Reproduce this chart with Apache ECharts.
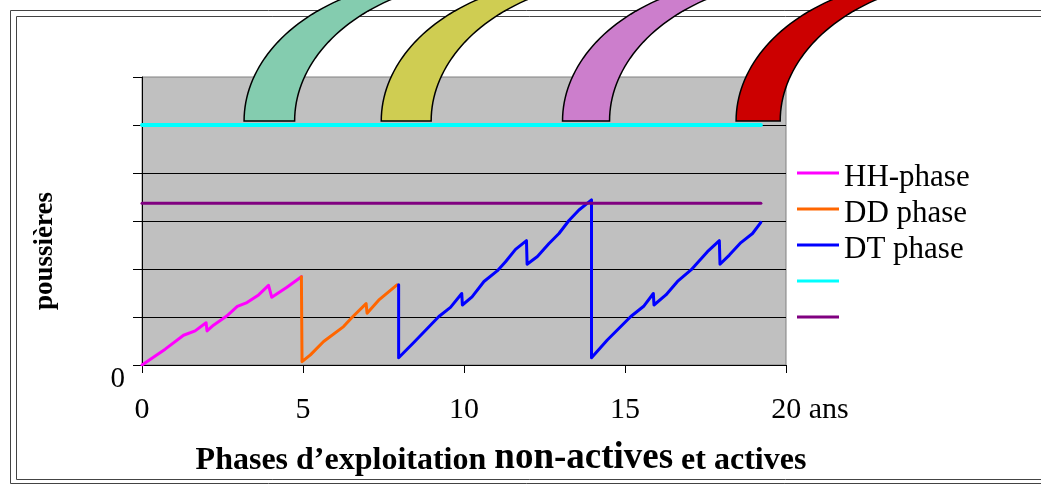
<!DOCTYPE html>
<html>
<head>
<meta charset="utf-8">
<script src="https://cdn.jsdelivr.net/npm/echarts@6/dist/echarts.min.js"></script>
<style>
html,body{margin:0;padding:0;background:#fff;}
#c{width:1041px;height:486px;}
</style>
</head>
<body>
<div id="c"></div>
<script>
// ---- data ----
var xTickLabels = ['0', '5', '10', '15', '20 ans'];
var seriesNames = ['HH-phase', 'DD phase', 'DT phase', '\u00a0', '\u00a0\u00a0'];
var hhPhase = [[0,0],[0.72,0.33],[1.29,0.62],[1.65,0.71],[1.99,0.88],[2.02,0.71],[2.22,0.83],[2.63,1.02],[2.96,1.22],[3.26,1.30],[3.62,1.46],[3.93,1.66],[4.03,1.41],[4.5,1.62],[4.95,1.84]];
var ddPhase = [[4.95,1.84],[4.97,0.07],[5.23,0.21],[5.64,0.49],[6.26,0.80],[6.52,0.99],[6.96,1.28],[6.99,1.08],[7.35,1.35],[7.92,1.67]];
var dtPhase = [[7.97,1.67],[7.97,0.15],[8.44,0.47],[9.22,1.01],[9.58,1.20],[9.93,1.49],[9.95,1.25],[10.25,1.42],[10.62,1.74],[11.03,1.96],[11.29,2.15],[11.6,2.41],[11.94,2.59],[11.96,2.10],[12.28,2.26],[12.64,2.53],[12.95,2.74],[13.26,3.01],[13.57,3.23],[13.96,3.44],[13.96,0.15],[14.45,0.52],[15.18,1.01],[15.59,1.23],[15.88,1.49],[15.9,1.25],[16.27,1.46],[16.63,1.74],[17.05,1.98],[17.56,2.36],[17.93,2.59],[17.95,2.10],[18.24,2.29],[18.6,2.55],[18.96,2.74],[19.22,2.97]];
var cyanLevel = [[0,5],[19.22,5]];
var purpleLevel = [[0,3.37],[19.22,3.37]];
var arcLeft = [3.17, 7.43, 13.06, 18.45];
var arcRight = [4.74, 8.98, 14.52, 19.82];
var arcBase = [5, 5, 5, 5];
var arcColors = ['#84CCAF', '#CFCD52', '#CC7ECC', '#CC0000'];
var lineColors = ['#FF00FF', '#FF6600', '#0000FF', '#00FFFF', '#800080'];

var FONT = 'Liberation Serif, Times New Roman, serif';
var chart = echarts.init(document.getElementById('c'));

var arcData = arcLeft.map(function (l, i) { return [l, arcRight[i], arcBase[i]]; });

function arcItem(params, api) {
  var pL = api.coord([api.value(0), api.value(2)]);
  var pR = api.coord([api.value(1), api.value(2)]);
  var by = pL[1] - 4;
  var A = 200, B = 142;
  var pts = [];
  var n = 48, k, t;
  for (k = 0; k <= n; k++) {
    t = (Math.PI / 2) * k / n;
    pts.push([pL[0] + A * (1 - Math.cos(t)), by - B * Math.sin(t)]);
  }
  for (k = n; k >= 0; k--) {
    t = (Math.PI / 2) * k / n;
    pts.push([pR[0] + A * (1 - Math.cos(t)), by - B * Math.sin(t)]);
  }
  return {
    type: 'polygon',
    shape: { points: pts },
    style: { fill: arcColors[params.dataIndex], stroke: '#000', lineWidth: 1.5 }
  };
}

function lineSeries(name, data, color, width) {
  return {
    name: name, type: 'line', data: data, color: color,
    showSymbol: false, symbol: 'none', animation: false,
    lineStyle: { color: color, width: width, cap: 'round', join: 'round' },
    z: 3
  };
}

var option = {
  animation: false,
  grid: {
    left: 142, right: 255, top: 77, bottom: 121,
    show: true, backgroundColor: '#C0C0C0', borderColor: '#808080', borderWidth: 1
  },
  legend: {
    data: seriesNames,
    orient: 'vertical',
    left: 797, top: 160,
    padding: 0,
    itemGap: 0,
    itemWidth: 42, itemHeight: 13,
    icon: 'path://M0,0H42V3H0ZM0,12.99H0.01V13H0Z',
    textStyle: { fontFamily: FONT, fontSize: 31, color: '#000', lineHeight: 36 }
  },
  xAxis: {
    type: 'value', min: 0, max: 20, interval: 5,
    axisLine: { show: true, lineStyle: { color: '#000', width: 1 } },
    axisTick: { show: true, inside: false, length: 8, lineStyle: { color: '#000' } },
    splitLine: { show: false },
    axisLabel: {
      margin: 30, fontFamily: FONT, fontSize: 30, color: '#000', lineHeight: 30,
      formatter: function (v) {
        var lab = xTickLabels[Math.round(v / 5)];
        return v === 20 ? '{p|}' + lab : lab;
      },
      rich: { p: { width: 48, fontFamily: FONT, fontSize: 30 } }
    }
  },
  yAxis: {
    type: 'value', min: 0, max: 6, interval: 1,
    axisLine: { show: true, lineStyle: { color: '#000', width: 1 } },
    axisTick: { show: true, inside: false, length: 9, lineStyle: { color: '#000' } },
    splitLine: { show: true, showMaxLine: false, lineStyle: { color: '#000', width: 1 } },
    axisLabel: {
      margin: 17, fontFamily: FONT, fontSize: 29, color: '#000',
      verticalAlign: 'top', lineHeight: 29,
      formatter: function (v) { return v === 0 ? '0' : ''; }
    }
  },
  graphic: [
    { type: 'rect', z: -10, silent: true, shape: { x: 10.5, y: 10.5, width: 1100, height: 473 }, style: { fill: null, stroke: '#444', lineWidth: 1 } },
    { type: 'rect', z: -10, silent: true, shape: { x: 16.5, y: 16.5, width: 1100, height: 463 }, style: { fill: null, stroke: '#444', lineWidth: 1 } },
    { type: 'text', z: 5, x: 45, y: 251, rotation: Math.PI / 2,
      style: { text: 'poussières', fontFamily: FONT, fontWeight: 'bold', fontSize: 27, fill: '#000', align: 'center', verticalAlign: 'middle' } },
    { type: 'text', z: 5, x: 501, y: 458,
      style: {
        text: '{a|Phases d’exploitation }{b|non-actives}{a| et actives}',
        align: 'center', verticalAlign: 'middle',
        rich: {
          a: { fontFamily: FONT, fontWeight: 'bold', fontSize: 32, fill: '#000', verticalAlign: 'bottom' },
          b: { fontFamily: FONT, fontWeight: 'bold', fontSize: 37, fill: '#000', verticalAlign: 'bottom' }
        }
      } }
  ],
  series: [
    lineSeries(seriesNames[0], hhPhase, lineColors[0], 3),
    lineSeries(seriesNames[1], ddPhase, lineColors[1], 3),
    lineSeries(seriesNames[2], dtPhase, lineColors[2], 3),
    lineSeries(seriesNames[3], cyanLevel, lineColors[3], 4),
    lineSeries(seriesNames[4], purpleLevel, lineColors[4], 3),
    {
      type: 'custom', name: 'arcs', coordinateSystem: 'cartesian2d',
      data: arcData, encode: { x: [0, 1], y: 2 },
      renderItem: arcItem, clip: false, z: 10, silent: true, animation: false
    }
  ]
};
chart.setOption(option);
</script>
</body>
</html>
